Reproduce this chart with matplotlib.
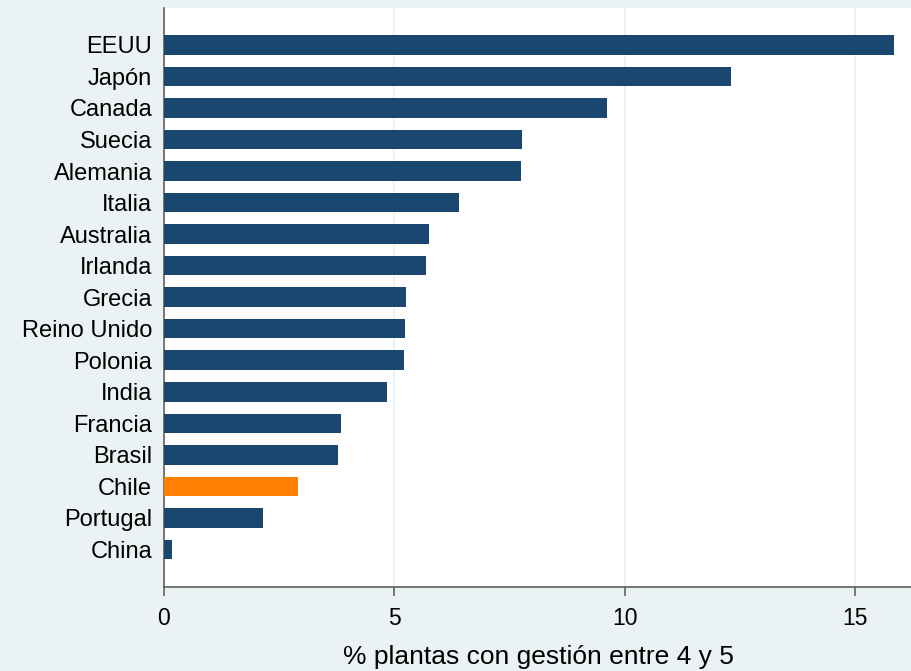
import matplotlib.pyplot as plt
import numpy as np

plt.rcParams['font.family'] = ['Liberation Sans', 'DejaVu Sans']

# Datos (ordenados de mayor a menor)
paises = ["EEUU", "Japón", "Canada", "Suecia", "Alemania", "Italia", "Australia",
          "Irlanda", "Grecia", "Reino Unido", "Polonia", "India", "Francia",
          "Brasil", "Chile", "Portugal", "China"]
valores = [15.84, 12.30, 9.61, 7.78, 7.74, 6.41, 5.75, 5.68, 5.26, 5.24,
           5.20, 4.83, 3.84, 3.77, 2.91, 2.14, 0.18]
destacado = "Chile"

navy = "#1a476f"
naranja = "#ff8000"
fondo = "#eaf2f3"

fig = plt.figure(figsize=(9.12, 6.71), dpi=100, facecolor=fondo)
ax = fig.add_axes([164 / 912, 0.1252, 0.8205, 0.8629])
ax.set_facecolor("white")

pos = np.arange(len(paises))[::-1]
colores = [naranja if p == destacado else navy for p in paises]
ax.barh(pos, valores, height=0.62, color=colores, zorder=3)

ax.set_xlim(0, 16.24)
ax.set_ylim(-1.19, 17.17)
ax.set_yticks(pos)
ax.set_yticklabels(paises, fontsize=17)
ax.set_xticks([0, 5, 10, 15])
ax.tick_params(axis='x', labelsize=16.5, length=6.5, width=1.2, color="#606060", pad=8)
ax.tick_params(axis='y', length=0, pad=8.5)
ax.grid(axis='x', color=fondo, linewidth=1.5, zorder=0)

for s in ['top', 'right']:
    ax.spines[s].set_visible(False)
for s in ['left', 'bottom']:
    ax.spines[s].set_color("#606060")
    ax.spines[s].set_linewidth(1.2)

ax.set_xlabel("% plantas con gestión entre 4 y 5", fontsize=19, labelpad=10.5)

fig.savefig("out.png", dpi=100, facecolor=fondo)
